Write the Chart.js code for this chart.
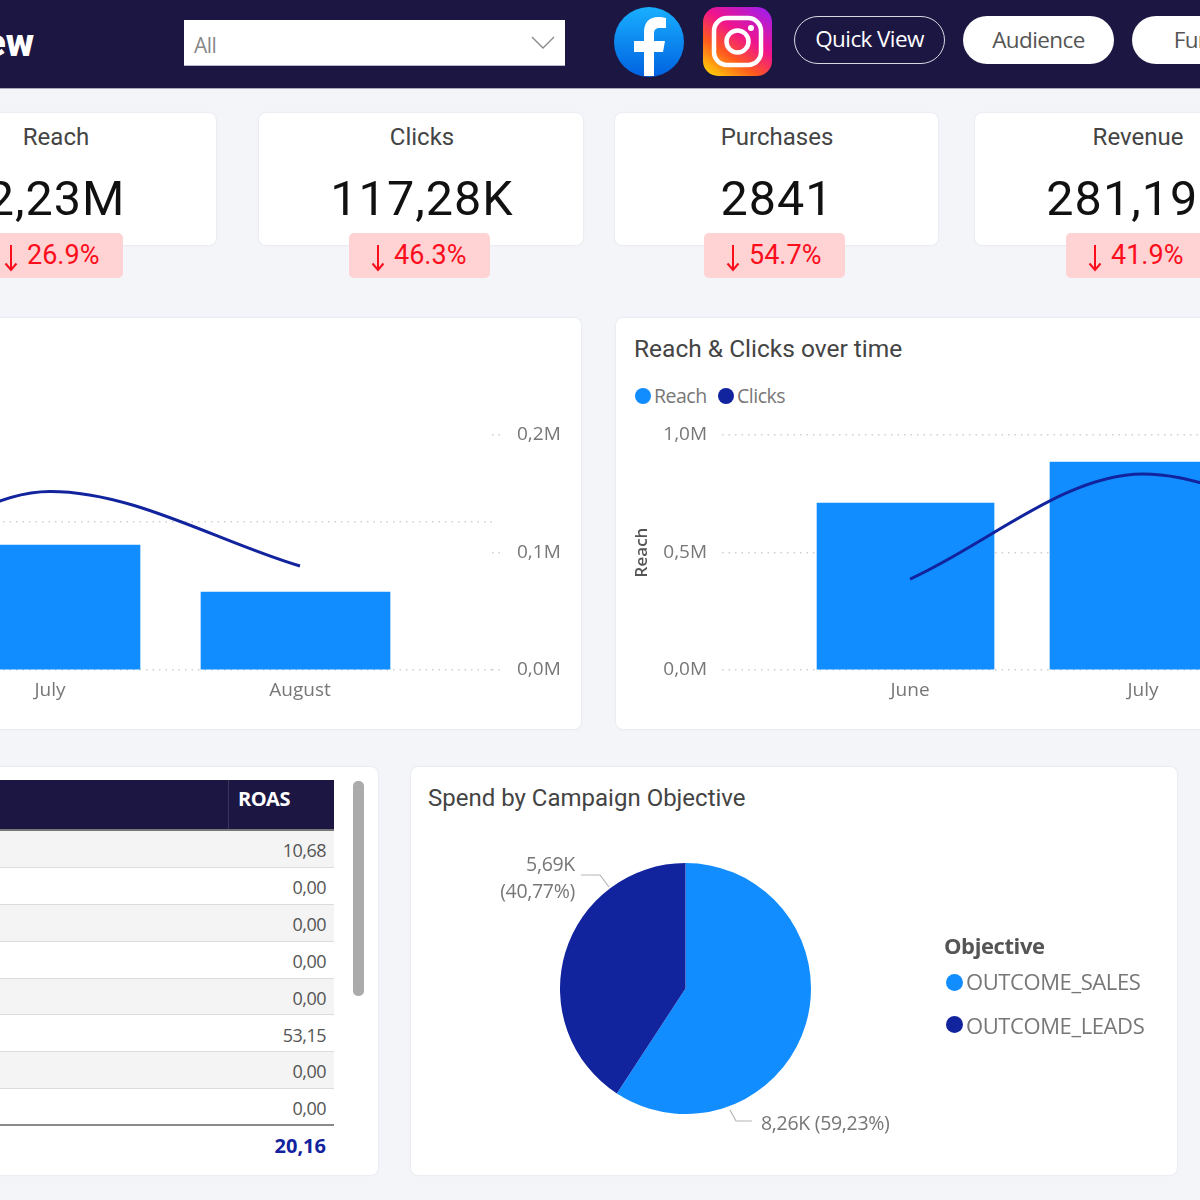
<!DOCTYPE html>
<html>
<head>
<meta charset="utf-8">
<script src="https://cdn.jsdelivr.net/npm/chart.js@4"></script>
<style>
  html, body { margin: 0; padding: 0; }
  body { position: relative; width: 1200px; height: 1200px; overflow: hidden; background: #f3f5f9; font-family: "Open Sans", sans-serif; }
  .abs, canvas { position: absolute; }
  .card { position: absolute; background: #fff; border-radius: 7px; box-shadow: 0 0 2px rgba(90, 100, 130, .18); }
  #header { position: absolute; left: 0; top: 0; width: 1200px; height: 88px; background: #1c1642; border-bottom: 1px solid #a9a8bd; }
  #brand { position: absolute; right: 1166px; top: 20px; color: #fff; font: 900 39px Roboto, sans-serif; white-space: nowrap; }
  #slicer { position: absolute; left: 184px; top: 20px; width: 381px; height: 45px; background: #fff; border-bottom: 1px solid #b9b9cc; }
  #slicer span { position: absolute; left: 10px; top: 11px; font-size: 21px; letter-spacing: -.5px; color: #888; }
  .pill { position: absolute; top: 16px; height: 48px; width: 151px; box-sizing: border-box; border-radius: 24px; background: #fff; color: #555; font-size: 22.5px; letter-spacing: -.6px; line-height: 47px; text-align: center; }
  .pill.on { background: none; border: 1.5px solid #d8d8e2; color: #fff; line-height: 44px; }
  .kpi-title { position: absolute; transform: translateX(-50%); top: 123px; font: 24px Roboto, sans-serif; color: #444; white-space: nowrap; }
  .kpi-value { position: absolute; transform: translateX(-50%); top: 170px; font: 48.5px Roboto, sans-serif; letter-spacing: 1px; color: #111; white-space: nowrap; }
  .badge { position: absolute; top: 233px; height: 45px; width: 141px; border-radius: 5px; background: #ffd2d3; color: #fb0d1b; font: 400 27px/45px Roboto, sans-serif; white-space: nowrap; }
  .badge svg { position: absolute; left: 22px; top: 11px; }
  .badge span { position: absolute; left: 45px; top: 0; }
  .chart-title { position: absolute; font: 24px Roboto, sans-serif; color: #444; white-space: nowrap; }
  .legend-dot { position: absolute; border-radius: 50%; }
  .legend-text { position: absolute; color: #777; white-space: nowrap; }
  #roas-table { position: absolute; left: 0; top: 780px; width: 334px; }
  #table-head { position: absolute; left: 0; top: 0; width: 334px; height: 49px; background: #1c1642; border-bottom: 2px solid #777; }
  #table-head i { position: absolute; left: 228px; top: 0; width: 1px; height: 49px; background: #39345e; }
  #table-head b { position: absolute; left: 238px; top: 5px; color: #fff; font-size: 20px; letter-spacing: -.5px; }
  .row { position: absolute; left: 0; width: 334px; height: 36.9px; box-sizing: border-box; border-bottom: 1.5px solid #dcdcdc; color: #555; font-size: 18px; letter-spacing: -.5px; line-height: 38px; text-align: right; padding-right: 8px; }
  #table-total { position: absolute; left: 0; top: 344px; width: 334px; height: 40px; box-sizing: border-box; border-top: 2px solid #8a8a8a; color: #12239e; font-weight: 700; font-size: 20px; line-height: 40px; text-align: right; padding-right: 8px; }
  #scrollbar { position: absolute; left: 353px; top: 781px; width: 11px; height: 215px; border-radius: 5px; background: #ababab; }
  .pie-label { position: absolute; color: #777; font-size: 19.5px; letter-spacing: -.3px; white-space: nowrap; }
</style>
</head>
<body>
<div id="header">
  <div id="brand">Overview</div>
  <div id="slicer">
    <span>All</span>
    <svg class="abs" style="left:347px;top:16px" width="24" height="14"><path d="M1 1 L12 12 L23 1" fill="none" stroke="#8a8a8a" stroke-width="1.4"/></svg>
  </div>
  <svg class="abs" style="left:614px;top:7px" width="70" height="70" viewBox="0 0 70 70">
    <defs><linearGradient id="fb" x1="0" y1="0" x2="0" y2="1"><stop offset="0" stop-color="#19afff"/><stop offset="1" stop-color="#0062e0"/></linearGradient></defs>
    <circle cx="35" cy="35" r="35" fill="url(#fb)"/>
    <path d="M30 69 V45 H20 V34 H30 V25 C30 15 36 10 44 10 C47 10 50 10.5 52 11 V21 H46 C41 21 40 23.5 40 27 V34 H51 L49 45 H40 V69 Z" fill="#fff"/>
  </svg>
  <svg class="abs" style="left:703px;top:7px" width="69" height="69" viewBox="0 0 69 69">
    <defs><linearGradient id="ig" x1="0.15" y1="1" x2="0.85" y2="0"><stop offset="0" stop-color="#ffc80a"/><stop offset=".3" stop-color="#ff5a1e"/><stop offset=".6" stop-color="#f0148c"/><stop offset="1" stop-color="#a51ee6"/></linearGradient></defs>
    <rect width="69" height="69" rx="15" fill="url(#ig)"/>
    <rect x="11" y="11" width="47" height="47" rx="13" fill="none" stroke="#fff" stroke-width="4.5"/>
    <circle cx="34.5" cy="34.5" r="11" fill="none" stroke="#fff" stroke-width="4.5"/>
    <circle cx="48" cy="21" r="3" fill="#fff"/>
  </svg>
  <div class="pill on" style="left:794px">Quick View</div>
  <div class="pill" style="left:963px">Audience</div>
  <div class="pill" style="left:1132px">Funnel</div>
</div>

<div class="card" style="left:-20px;top:113px;width:236px;height:132px"></div>
<div class="card" style="left:259px;top:113px;width:324px;height:132px"></div>
<div class="card" style="left:615px;top:113px;width:323px;height:132px"></div>
<div class="card" style="left:975px;top:113px;width:260px;height:132px"></div>
<div id="kpis"></div>

<div class="card" style="left:-20px;top:318px;width:601px;height:411px"></div>
<div class="card" style="left:616px;top:318px;width:620px;height:411px"></div>
<canvas id="leftChart"></canvas>
<canvas id="rightChart"></canvas>
<div class="chart-title" style="left:634px;top:334px;font-size:24.5px">Reach &amp; Clicks over time</div>
<div class="legend-dot" style="left:635px;top:388px;width:16px;height:16px;background:#118dff"></div>
<div class="legend-text" style="left:654px;top:382px;font-size:19.5px;letter-spacing:-.5px">Reach</div>
<div class="legend-dot" style="left:718px;top:388px;width:16px;height:16px;background:#12239e"></div>
<div class="legend-text" style="left:737px;top:382px;font-size:19.5px;letter-spacing:-.5px">Clicks</div>

<div class="card" style="left:-20px;top:767px;width:398px;height:408px"></div>
<div id="roas-table">
  <div id="table-head"><i></i><b>ROAS</b></div>
  <div id="table-rows"></div>
  <div id="table-total"></div>
</div>
<div id="scrollbar"></div>

<div class="card" style="left:411px;top:767px;width:766px;height:408px"></div>
<div class="chart-title" style="left:428px;top:784px">Spend by Campaign Objective</div>
<canvas id="pieChart"></canvas>
<svg class="abs" style="left:0;top:0;pointer-events:none" width="1200" height="1200">
  <path d="M581 875 H600 L609 887 M730 1110 L736 1121 H752" fill="none" stroke="#b5b5b5" stroke-width="1.2"/>
</svg>
<div class="pie-label" style="right:625px;top:850px">5,69K</div>
<div class="pie-label" style="right:625px;top:877px">(40,77%)</div>
<div class="pie-label" style="left:761px;top:1109px">8,26K (59,23%)</div>
<div class="legend-text" style="left:944px;top:930px;font-size:22px;font-weight:700;color:#555;letter-spacing:-.4px">Objective</div>
<div class="legend-dot" style="left:946px;top:974px;width:17px;height:17px;background:#118dff"></div>
<div class="legend-text" style="left:966px;top:966px;font-size:22px;letter-spacing:-.4px">OUTCOME_SALES</div>
<div class="legend-dot" style="left:946px;top:1016px;width:17px;height:17px;background:#12239e"></div>
<div class="legend-text" style="left:966px;top:1010px;font-size:22px;letter-spacing:-.4px">OUTCOME_LEADS</div>

<script>
const months = ["June", "July", "August"];

// left chart: bars on the hidden left axis (K), line on the right axis (M)
const spendValues = [7.1, 4.22, 2.63];
const revenueValues = [0.041, 0.152, 0.0885];
const spendTicks = [0, 5];
const revenueTicks = [0, 0.1, 0.2];

// right chart: bars on the left axis (M), line on the hidden right axis (K)
const reachValues = [0.71, 0.885, 0.635];
const clicksValues = [27.1, 58.4, 34];
const reachTicks = [0, 0.5, 1];

const objectives = ["OUTCOME_SALES", "OUTCOME_LEADS"];
const objectiveSpend = [8.26, 5.69];

const kpiNames = ["Reach", "Clicks", "Purchases", "Revenue"];
const kpiValues = ["2,23M", "117,28K", "2841", "281,19K"];
const kpiChanges = ["26.9%", "46.3%", "54.7%", "41.9%"];

const roasValues = ["10,68", "0,00", "0,00", "0,00", "0,00", "53,15", "0,00", "0,00"];
const roasTotal = "20,16";

const BLUE = "#118dff";
const NAVY = "#12239e";
const GREY = "#777777";
const TICK_FONT = { family: "'Open Sans', sans-serif", size: 19 };

// page centre of each KPI card, and the badge's left edge
const kpiCentres = [56, 422, 777, 1138];
const badgeLefts = [-18, 349, 704, 1066];

const kpis = document.getElementById("kpis");
kpiNames.forEach((name, i) => {
  kpis.innerHTML += `
    <div class="kpi-title" style="left:${kpiCentres[i]}px">${name}</div>
    <div class="kpi-value" style="left:${kpiCentres[i]}px">${kpiValues[i]}</div>
    <div class="badge" style="left:${badgeLefts[i]}px">
      <svg width="14" height="28"><path d="M7 1 V25 M1.5 19.5 L7 26 L12.5 19.5" fill="none" stroke="#fb0d1b" stroke-width="2"/></svg>
      <span>${kpiChanges[i]}</span>
    </div>`;
});

const rows = document.getElementById("table-rows");
roasValues.forEach((value, i) => {
  rows.innerHTML += `<div class="row" style="top:${51 + i * 36.9}px;background:${i % 2 ? "#fff" : "#f4f4f4"}">${value}</div>`;
});
document.getElementById("table-total").textContent = roasTotal;

function points(values, shift) {
  return values.map((y, i) => ({ x: i + shift, y }));
}

function mLabel(v) {
  return v.toFixed(1).replace(".", ",") + "M";
}

function dottedGrid(visible) {
  return { drawOnChartArea: visible, drawTicks: !visible, tickLength: 13, color: "#cfcfcf", tickColor: "#cfcfcf", tickBorderDash: [1.5, 5], lineWidth: 1.5 };
}

// pin the plot box to the reference instead of letting tick labels push it in
function fixBox(s, size) {
  if (s.isHorizontal()) s.height = size; else s.width = size;
  s.paddingTop = s.paddingBottom = s.paddingLeft = s.paddingRight = 0;
}

// x axis is linear so the band can run past the last month like the reference does
function monthAxis(min, max) {
  return {
    type: "linear", min, max, offset: false,
    grid: { display: false }, border: { display: false },
    afterFit(s) { fixBox(s, 41); },
    ticks: {
      stepSize: 1, includeBounds: false, autoSkip: false, maxRotation: 0, padding: 1,
      color: GREY, font: TICK_FONT,
      callback: (v) => months[v],
    },
  };
}

function sizeCanvas(id, left, top, width, height) {
  const c = document.getElementById(id);
  c.width = width;
  c.height = height;
  c.style.left = left + "px";
  c.style.top = top + "px";
  c.style.width = width + "px";
  c.style.height = height + "px";
  return c;
}

new Chart(sizeCanvas("leftChart", -400, 421, 990, 290), {
  data: {
    datasets: [
      { type: "line", label: "Revenue", data: points(revenueValues, 0), yAxisID: "y1", borderColor: NAVY, borderWidth: 3, pointRadius: 0, cubicInterpolationMode: "monotone", order: 0 },
      { type: "bar", label: "Spend", data: points(spendValues, -0.018), yAxisID: "y", backgroundColor: BLUE, barThickness: 189, order: 1 },
    ],
  },
  options: {
    responsive: false, animation: false,
    layout: { padding: { top: 14, left: 0, right: 0, bottom: 0 } },
    plugins: { legend: { display: false }, tooltip: { enabled: false } },
    scales: {
      x: monthAxis(-0.8, 2.768),
      y: {
        position: "left", min: 0, max: 7.94,
        border: { display: false, dash: [1.5, 5] },
        grid: dottedGrid(true),
        afterBuildTicks(s) { s.ticks = spendTicks.map((value) => ({ value })); },
        afterFit(s) { fixBox(s, 0); },
        ticks: { display: false },
      },
      y1: {
        position: "right", min: 0, max: 0.2,
        border: { display: false },
        grid: dottedGrid(false),
        afterBuildTicks(s) { s.ticks = revenueTicks.map((value) => ({ value })); },
        afterFit(s) { fixBox(s, 98); },
        ticks: { color: GREY, font: TICK_FONT, padding: 12, callback: mLabel },
      },
    },
  },
});

new Chart(sizeCanvas("rightChart", 616, 421, 900, 290), {
  data: {
    datasets: [
      { type: "line", label: "Clicks", data: points(clicksValues, 0), yAxisID: "y1", borderColor: NAVY, borderWidth: 3, pointRadius: 0, cubicInterpolationMode: "monotone", order: 0 },
      { type: "bar", label: "Reach", data: points(reachValues, -0.0193), yAxisID: "y", backgroundColor: BLUE, barThickness: 177, order: 1 },
    ],
  },
  options: {
    responsive: false, animation: false,
    layout: { padding: { top: 14, left: 0, right: 0, bottom: 0 } },
    plugins: { legend: { display: false }, tooltip: { enabled: false } },
    scales: {
      x: monthAxis(-0.807, 2.601),
      y: {
        position: "left", min: 0, max: 1,
        border: { display: false, dash: [1.5, 5] },
        grid: dottedGrid(true),
        afterBuildTicks(s) { s.ticks = reachTicks.map((value) => ({ value })); },
        afterFit(s) { fixBox(s, 106); },
        title: { display: true, text: "Reach", color: "#555", font: { family: "'Open Sans', sans-serif", size: 17, weight: "600" }, padding: { top: 16, bottom: 0 } },
        ticks: { color: GREY, font: TICK_FONT, padding: 15, callback: mLabel },
      },
      y1: {
        display: false, position: "right", min: 0, max: 70,
        afterFit(s) { fixBox(s, 0); },
      },
    },
  },
});

new Chart(sizeCanvas("pieChart", 560, 863, 251, 251), {
  type: "pie",
  data: {
    labels: objectives,
    datasets: [{ data: objectiveSpend, backgroundColor: [BLUE, NAVY], borderWidth: 0 }],
  },
  options: {
    responsive: false, animation: false,
    plugins: { legend: { display: false }, tooltip: { enabled: false } },
  },
});
</script>
</body>
</html>
